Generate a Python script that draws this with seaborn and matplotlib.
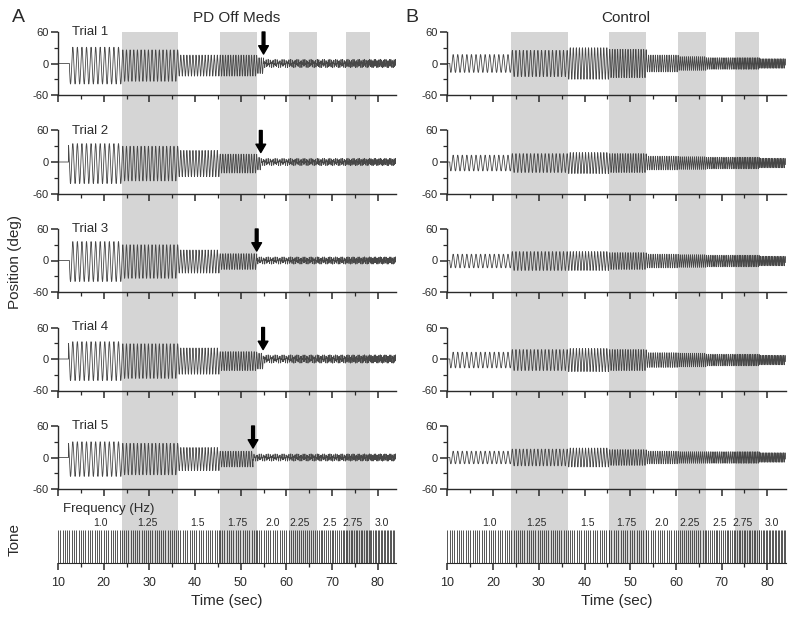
import numpy as np
import seaborn as sns
import matplotlib.pyplot as plt
from matplotlib.ticker import MultipleLocator

# tone schedule
seg_edges = [10, 24, 36.3, 45.4, 53.5, 60.5, 66.7, 73, 78.3, 84]
seg_freq = [1.0, 1.25, 1.5, 1.75, 2.0, 2.25, 2.5, 2.75, 3.0]
# spacing of the tone marks as printed (marks per second)
tone_rate = [2.0, 2.1, 2.0, 2.0, 2.0, 2.25, 2.5, 2.75, 3.0]
freq_labels = ["1.0", "1.25", "1.5", "1.75", "2.0", "2.25", "2.5", "2.75", "3.0"]
freq_label_t = [19.2, 29.5, 40.6, 49.2, 57, 63, 69.5, 74.5, 81]
shaded_segs = [1, 3, 5, 7]

# PD off meds: movement amplitude (deg) per tone segment, before the arrow
pd_start = [12.5, 12.3, 12.5, 12.3, 12.3]
pd_arrow = [55.0, 54.4, 53.5, 54.9, 52.7]
pd_offset = [-4, -3, -2, -4, -3]
pd_post_amp = [8, 7, 7, 8, 7]
pd_amp = [
    [35, 30, 20, 20, 15, 6, 6, 6, 6],
    [38, 33, 25, 18, 12, 5, 5, 5, 5],
    [38, 32, 22, 15, 10, 5, 5, 5, 5],
    [37, 33, 25, 18, 15, 6, 6, 6, 6],
    [33, 30, 22, 15, 12, 5, 5, 5, 5],
]

# Control
ctl_start = [10.5, 10.5, 10.5, 10.5, 10.5]
ctl_offset = [0, -2, -1, -2, 0]
ctl_amp = [
    [17, 25, 30, 27, 16, 13, 11, 11, 9],
    [15, 18, 20, 18, 13, 12, 11, 11, 9],
    [13, 18, 18, 16, 13, 12, 11, 11, 9],
    [15, 20, 22, 20, 14, 13, 11, 11, 9],
    [12, 16, 18, 15, 12, 11, 11, 11, 9],
]

sns.set_style("ticks")
plt.rcParams['font.family'] = ['Liberation Sans', 'DejaVu Sans']
plt.rcParams['axes.unicode_minus'] = False

W, H = 800, 621
fig = plt.figure(figsize=(8, 6.21), dpi=100)


def rect(x0, top, w, h):
    return [x0 / W, 1 - (top + h) / H, w / W, h / H]


dt = 0.01
tt = np.arange(10, 84, dt)
seg_idx = np.clip(np.searchsorted(seg_edges, tt, side='right') - 1, 0, 8)
freq_t = np.array(seg_freq)[seg_idx]
phase = 2 * np.pi * np.cumsum(freq_t) * dt


def make_trace(amps, start, offset, arrow=None, post=None):
    a = np.array(amps, dtype=float)[seg_idx]
    y = offset + a * np.sin(phase)
    if arrow is not None:
        late = tt >= arrow
        y[late] = post * (0.55 * np.sin(phase[late]) + 0.45 * np.sin(2.3 * phase[late] + 0.7))
    y[tt < start] = 0
    return y


ink = '#2a2a2a'
cols = [(58, "PD Off Meds", "A", 12), (447.5, "Control", "B", 405)]

for c, (x0, title, letter, letter_x) in enumerate(cols):
    # shaded bands across the whole column
    bg = fig.add_axes(rect(x0, 32, 338, 531))
    bg.set_xlim(10, 84)
    bg.set_ylim(0, 1)
    for s in shaded_segs:
        bg.axvspan(seg_edges[s], seg_edges[s + 1], color='#d5d5d5', lw=0)
    bg.axis('off')

    for i in range(5):
        ax = fig.add_axes(rect(x0, 32 + 98.5 * i, 338, 63))
        ax.patch.set_alpha(0)
        if c == 0:
            y = make_trace(pd_amp[i], pd_start[i], pd_offset[i], pd_arrow[i], pd_post_amp[i])
        else:
            y = make_trace(ctl_amp[i], ctl_start[i], ctl_offset[i])
        sns.lineplot(x=tt, y=y, ax=ax, color='#484848', linewidth=0.6,
                     estimator=None, sort=False)
        ax.set_xlim(10, 84)
        ax.set_ylim(-60, 60)
        ax.set_yticks([-60, 0, 60])
        ax.yaxis.set_minor_locator(MultipleLocator(30))
        ax.xaxis.set_major_locator(MultipleLocator(10))
        ax.xaxis.set_minor_locator(MultipleLocator(5))
        ax.set_xticklabels([])
        ax.tick_params(axis='both', which='major', length=5, width=1.1, colors=ink,
                       labelsize=8, pad=2)
        ax.tick_params(axis='both', which='minor', length=3, width=0.9, colors=ink)
        ax.set_xlabel('')
        ax.set_ylabel('')
        sns.despine(ax=ax)
        for sp in ('left', 'bottom'):
            ax.spines[sp].set_color(ink)
            ax.spines[sp].set_linewidth(1.0)
        if c == 0:
            ax.text(0.041, 1.0, f"Trial {i + 1}", transform=ax.transAxes,
                    fontsize=9.5, va='center', ha='left', color=ink)
            ax.annotate('', xy=(pd_arrow[i], 18), xytext=(pd_arrow[i], 60),
                        arrowprops=dict(facecolor='black', edgecolor='black',
                                        width=2, headwidth=7, headlength=6),
                        annotation_clip=False)
        if i == 0:
            ax.text(49, 1.22, title, transform=ax.get_xaxis_transform(),
                    fontsize=11, ha='center', va='center', color=ink)

    # tone marks
    tax = fig.add_axes(rect(x0, 530, 338, 33))
    tax.patch.set_alpha(0)
    pulses = []
    for s in range(9):
        pulses.extend(np.arange(seg_edges[s], seg_edges[s + 1] - 1e-6, 1.0 / tone_rate[s]))
    tax.vlines(pulses, 0, 1, color='#3a3a3a', lw=0.6)
    tax.set_xlim(10, 84)
    tax.set_ylim(0, 1)
    tax.set_yticks([])
    tax.xaxis.set_major_locator(MultipleLocator(10))
    tax.xaxis.set_minor_locator(MultipleLocator(5))
    tax.tick_params(axis='x', which='major', length=5, width=1.1, colors=ink,
                    labelsize=9, pad=5)
    tax.tick_params(axis='x', which='minor', length=3, width=0.9, colors=ink)
    sns.despine(ax=tax, left=True)
    tax.spines['bottom'].set_color(ink)
    for lab, tl in zip(freq_labels, freq_label_t):
        tax.text(tl, 1.22, lab, fontsize=7.5, ha='center', va='center', color=ink)
    tax.set_xlabel("Time (sec)", fontsize=11, color=ink, labelpad=4)

    fig.text(letter_x / W, 1 - 17 / H, letter, fontsize=14, ha='left', va='center', color=ink)

fig.text(63 / W, 1 - 509 / H, "Frequency (Hz)", fontsize=9.5, ha='left', va='center', color=ink)
fig.text(15 / W, 1 - 262 / H, "Position (deg)", fontsize=11, rotation=90,
         ha='center', va='center', color=ink)
fig.text(15 / W, 1 - 540 / H, "Tone", fontsize=11, rotation=90,
         ha='center', va='center', color=ink)

fig.savefig("out.png", dpi=100)
